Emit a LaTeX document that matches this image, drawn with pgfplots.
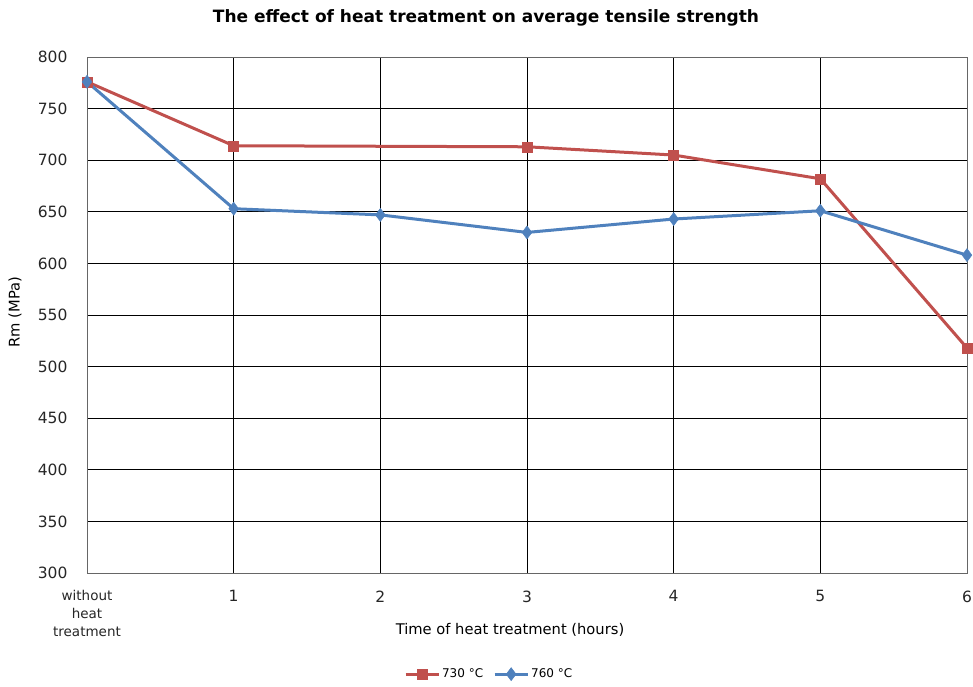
\documentclass[border=0pt]{standalone}
\usepackage{pgfplots}
\pgfplotsset{compat=1.18}
\usepackage{fontspec}
\setmainfont{DejaVu Sans}
\definecolor{exred}{HTML}{C0504D}
\definecolor{exblue}{HTML}{4F81BD}
\newcommand{\tl}[1]{{\fontsize{15.5}{17}\selectfont #1}}
\begin{document}
\begin{tikzpicture}[x=1pt,y=1pt]
\path[use as bounding box] (0,0) rectangle (973,686);
\begin{axis}[
  at={(87pt,113pt)}, anchor=south west,
  scale only axis, width=880pt, height=516pt,
  xmin=0, xmax=6, ymin=300, ymax=800,
  xtick={0,1,2,3,4,5,6},
  xticklabels={without\\heat\\treatment,\tl{1},\tl{2},\tl{3},\tl{4},\tl{5},\tl{6}},
  ytick={300,350,...,800},
  grid=major,
  major grid style={black, line width=0.9pt},
  axis line style={gray!80!black, line width=0.9pt},
  tick style={draw=none},
  /pgf/number format/assume math mode=true,
  yticklabel style={font=\fontsize{15.5}{17}\selectfont, text=black!85, xshift=-16pt},
  xticklabel style={align=center, yshift=-14pt, font=\fontsize{13.5}{18}\selectfont, text=black!85},
  legend style={at={(0.457,-0.196)}, anchor=center, draw=none, legend columns=2,
    font=\fontsize{12}{14}\selectfont, /tikz/every even column/.append style={column sep=8pt}},
  legend image code/.code={\draw[#1] (0pt,0pt) -- (33pt,0pt); \draw[#1, only marks] plot coordinates {(16.5pt,0pt)};},
  clip=false,
]
\addplot[exred, line width=3pt, mark=square*, mark size=5pt, mark options={solid, line width=0.5pt}]
  coordinates {(0,776) (1,714) (3,713) (4,705) (5,682) (6,518)};
\addlegendentry{730 °C}
\addplot[exblue, line width=3pt, mark=diamond*, mark size=6.5pt, mark options={solid, line width=0.5pt}]
  coordinates {(0,776) (1,653) (2,647) (3,630) (4,643) (5,651) (6,608)};
\addlegendentry{760 °C}
\end{axis}
\node[font=\bfseries\fontsize{17}{20}\selectfont] at (486,668) {The effect of heat treatment on average tensile strength};
\node[font=\fontsize{14.7}{17}\selectfont] at (510,56) {Time of heat treatment (hours)};
\node[font=\fontsize{14.7}{17}\selectfont, rotate=90] at (15,374) {Rm (MPa)};
\end{tikzpicture}
\end{document}
